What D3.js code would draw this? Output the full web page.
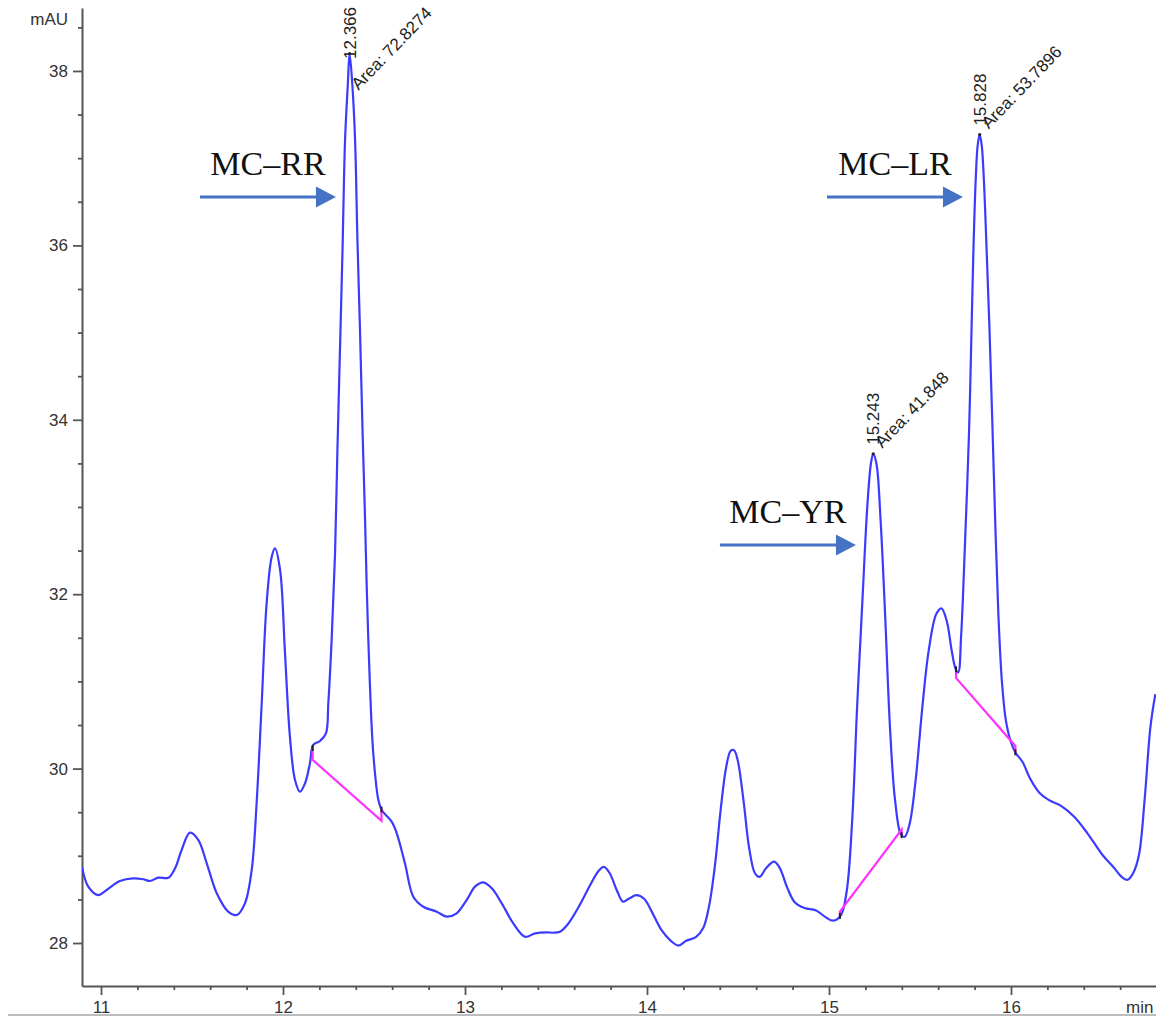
<!DOCTYPE html>
<html>
<head>
<meta charset="utf-8">
<script src="https://cdn.jsdelivr.net/npm/d3@7"></script>
<style>
  body { margin: 0; background: #fff; }
  svg { display: block; }
</style>
</head>
<body>
<svg id="chart" width="1156" height="1017"></svg>
<script>
// Chromatogram trace: retention time (min) and detector response (mAU)
const retentionTime = [
  10.896, 10.930, 10.985, 11.031, 11.104, 11.177, 11.232, 11.269, 11.315, 11.370,
  11.407, 11.443, 11.489, 11.535, 11.581, 11.636, 11.699, 11.746, 11.791, 11.828,
  11.855, 11.883, 11.910, 11.938, 11.956, 11.984, 12.011, 12.038, 12.066, 12.093,
  12.121, 12.148, 12.166, 12.203, 12.236, 12.249, 12.268, 12.286, 12.299, 12.313,
  12.327, 12.341, 12.356, 12.366, 12.381, 12.396, 12.409, 12.423, 12.437, 12.451,
  12.460, 12.478, 12.496, 12.524, 12.542, 12.597, 12.625, 12.670, 12.716, 12.771,
  12.845, 12.899, 12.954, 13.009, 13.055, 13.101, 13.147, 13.202, 13.265, 13.330,
  13.385, 13.449, 13.485, 13.522, 13.564, 13.627, 13.690, 13.732, 13.763, 13.795,
  13.837, 13.868, 13.900, 13.942, 13.984, 14.026, 14.079, 14.131, 14.173, 14.215,
  14.268, 14.309, 14.341, 14.373, 14.404, 14.435, 14.460, 14.478, 14.498, 14.530,
  14.561, 14.593, 14.618, 14.656, 14.698, 14.729, 14.771, 14.813, 14.866, 14.929,
  14.981, 15.023, 15.065, 15.097, 15.128, 15.154, 15.184, 15.210, 15.230, 15.243,
  15.261, 15.283, 15.309, 15.335, 15.363, 15.396, 15.416, 15.443, 15.475, 15.512,
  15.548, 15.590, 15.618, 15.647, 15.674, 15.695, 15.710, 15.726, 15.747, 15.769,
  15.780, 15.793, 15.806, 15.817, 15.828, 15.839, 15.851, 15.866, 15.882, 15.897,
  15.913, 15.930, 15.950, 15.972, 15.999, 16.025, 16.063, 16.104, 16.157, 16.209,
  16.273, 16.346, 16.419, 16.503, 16.566, 16.608, 16.640, 16.671, 16.703, 16.734,
  16.766, 16.793
];
const absorbance = [
  28.870, 28.646, 28.550, 28.608, 28.711, 28.742, 28.731, 28.711, 28.749, 28.749,
  28.857, 29.067, 29.265, 29.181, 28.914, 28.570, 28.359, 28.321, 28.455, 28.837,
  29.602, 30.749, 31.896, 32.430, 32.526, 32.278, 31.322, 30.366, 29.869, 29.735,
  29.831, 30.061, 30.271, 30.317, 30.405, 30.749, 31.513, 32.469, 33.654, 34.800,
  35.947, 37.209, 37.839, 38.200, 37.839, 37.209, 36.062, 35.030, 33.883, 32.851,
  32.086, 30.939, 30.175, 29.640, 29.525, 29.391, 29.258, 28.914, 28.531, 28.416,
  28.359, 28.302, 28.341, 28.493, 28.646, 28.696, 28.627, 28.455, 28.226, 28.072,
  28.111, 28.123, 28.118, 28.130, 28.213, 28.423, 28.674, 28.821, 28.872, 28.800,
  28.591, 28.474, 28.507, 28.548, 28.507, 28.360, 28.150, 28.025, 27.970, 28.025,
  28.067, 28.172, 28.423, 28.884, 29.513, 30.015, 30.204, 30.212, 30.099, 29.638,
  29.093, 28.800, 28.758, 28.862, 28.933, 28.862, 28.632, 28.464, 28.401, 28.373,
  28.297, 28.256, 28.318, 28.591, 29.429, 30.686, 31.943, 32.990, 33.493, 33.610,
  33.493, 32.865, 31.733, 30.476, 29.638, 29.240, 29.219, 29.366, 29.847, 30.686,
  31.355, 31.775, 31.837, 31.692, 31.355, 31.147, 31.104, 31.523, 32.571, 33.828,
  34.750, 35.900, 36.750, 37.150, 37.270, 37.150, 36.750, 35.950, 35.030, 34.000,
  32.850, 31.800, 31.000, 30.550, 30.308, 30.182, 30.078, 29.890, 29.721, 29.638,
  29.576, 29.450, 29.261, 29.009, 28.864, 28.758, 28.725, 28.800, 29.009, 29.638,
  30.476, 30.853
];

// Integrated peaks
const peakTimes = [12.366, 15.243, 15.828];
const peakAreas = ["72.8274", "41.848", "53.7896"];
const compoundNames = ["MC\u2013RR", "MC\u2013YR", "MC\u2013LR"];
const baselineStart = [[12.163, 30.10], [15.060, 28.36], [15.698, 31.04]];
const baselineEnd = [[12.541, 29.40], [15.399, 29.30], [16.024, 30.26]];

// Axis ticks
const xTicks = [11, 12, 13, 14, 15, 16];
const yTicks = [28, 30, 32, 34, 36, 38];

// ---- layout ----
const plot = { left: 82, right: 1156, top: 8, bottom: 986 };
// arrow tip time (min) and arrow level (mAU) for each compound callout
const callouts = [
  { tip: 12.291, level: 36.555 },
  { tip: 15.148, level: 32.564 },
  { tip: 15.736, level: 36.555 }
];

const svg = d3.select("#chart");
const x = d3.scaleLinear().domain([10.8956, 16.7967]).range([plot.left, plot.right]);
const y = d3.scaleLinear().domain([27.507, 38.722]).range([plot.bottom, plot.top]);

const sans = "'Liberation Sans', Arial, Helvetica, sans-serif";
const fontSize = "17px";
const axisColor = "#555";
const textColor = "#333";

svg.append("defs").append("clipPath").attr("id", "plotClip")
  .append("rect")
  .attr("x", plot.left).attr("y", 0)
  .attr("width", plot.right - plot.left).attr("height", plot.bottom);

// frame line along the bottom edge
svg.append("line")
  .attr("x1", 8).attr("x2", 1156).attr("y1", 1015).attr("y2", 1015)
  .attr("stroke", "#bdbdbd").attr("stroke-width", 2);

// ---- axes ----
function styleAxis(g, withDomain) {
  g.select(".domain").attr("stroke", axisColor).attr("stroke-width", 2)
    .style("display", withDomain ? null : "none");
  g.selectAll(".tick line").attr("stroke", axisColor).attr("stroke-width", 1.8);
  g.selectAll(".tick text").attr("fill", textColor)
    .style("font-family", sans).style("font-size", fontSize);
}

const yMinor = d3.range(57, 78).filter(i => i % 4 !== 0).map(i => i / 2);
svg.append("g").attr("transform", `translate(${plot.left},0)`)
  .call(d3.axisLeft(y).tickValues(yMinor).tickSize(4).tickSizeOuter(0).tickFormat(""))
  .call(g => styleAxis(g, false));
svg.append("g").attr("transform", `translate(${plot.left},0)`)
  .call(d3.axisLeft(y).tickValues(yTicks).tickSize(9).tickSizeOuter(0).tickPadding(5)
    .tickFormat(d3.format("d")))
  .call(g => styleAxis(g, true));

const xMinor = d3.range(56, 84).filter(i => i % 5 !== 0).map(i => i / 5);
svg.append("g").attr("transform", `translate(0,${plot.bottom})`)
  .call(d3.axisBottom(x).tickValues(xMinor).tickSize(4).tickSizeOuter(0).tickFormat(""))
  .call(g => styleAxis(g, false));
svg.append("g").attr("transform", `translate(0,${plot.bottom})`)
  .call(d3.axisBottom(x).tickValues(xTicks).tickSize(9).tickSizeOuter(0).tickPadding(6)
    .tickFormat(d3.format("d")))
  .call(g => styleAxis(g, true));

// unit labels
svg.append("text").attr("x", plot.left - 14).attr("y", 25)
  .attr("text-anchor", "end").attr("fill", textColor)
  .style("font-family", sans).style("font-size", fontSize).text("mAU");
svg.append("text").attr("x", 1126).attr("y", 1013)
  .attr("fill", textColor)
  .style("font-family", sans).style("font-size", fontSize).text("min");

// ---- trace ----
const trace = retentionTime.map((t, i) => [t, absorbance[i]]);
const line = d3.line().x(d => x(d[0])).y(d => y(d[1])).curve(d3.curveCatmullRom.alpha(0.5));
const plotG = svg.append("g").attr("clip-path", "url(#plotClip)");

function traceAt(t) {
  const i = d3.bisector(d => d[0]).left(trace, t);
  if (i <= 0) return trace[0][1];
  if (i >= trace.length) return trace[trace.length - 1][1];
  const a = trace[i - 1], b = trace[i];
  return a[1] + (b[1] - a[1]) * (t - a[0]) / (b[0] - a[0]);
}

plotG.append("path").datum(trace)
  .attr("d", line)
  .attr("fill", "none")
  .attr("stroke", "#3b3bff")
  .attr("stroke-width", 2.2)
  .attr("stroke-linejoin", "round");

// integration baselines (with drops to the trace)
peakTimes.forEach((_, i) => {
  const s = baselineStart[i], e = baselineEnd[i];
  const pts = [[s[0], traceAt(s[0])], s, e, [e[0], traceAt(e[0])]];
  plotG.append("path")
    .attr("d", d3.line().x(d => x(d[0])).y(d => y(d[1]))(pts))
    .attr("fill", "none").attr("stroke", "#ff30ff").attr("stroke-width", 2.2);
  // start / end markers
  [s[0], e[0]].forEach(t => {
    const cy = y(traceAt(t));
    plotG.append("line")
      .attr("x1", x(t)).attr("x2", x(t)).attr("y1", cy - 3).attr("y2", cy + 3)
      .attr("stroke", "#222").attr("stroke-width", 2);
  });
});

// ---- peak labels (kept inside the plot area) ----
const tilt = 46;
peakTimes.forEach((t, i) => {
  const px = x(t), h = traceAt(t), py = y(h);
  svg.append("circle").attr("cx", px).attr("cy", py).attr("r", 1.6).attr("fill", "#222");

  const rt = svg.append("text")
    .attr("fill", "#222").style("font-family", sans).style("font-size", fontSize)
    .text(d3.format(".3f")(t));
  const rtLen = rt.node().getComputedTextLength();
  const ry = Math.max(py - 9, plot.top - 1 + rtLen);
  rt.attr("transform", `translate(${px + 6},${ry}) rotate(-90)`);

  const area = svg.append("text")
    .attr("fill", "#222").style("font-family", sans).style("font-size", fontSize)
    .text("Area: " + peakAreas[i]);
  const len = area.node().getComputedTextLength();
  const rise = len * Math.sin(tilt * Math.PI / 180);
  const ay = Math.max(py - 5, plot.top + 6 + rise);
  area.attr("transform", `translate(${px + 9},${ay}) rotate(${-tilt})`);
});

// ---- compound callouts ----
const arrowColor = "#4472c4";
const arrowLen = 136, headLen = 20, headHalf = 10.5;
callouts.forEach((c, i) => {
  const tipX = x(c.tip), ay = y(c.level), tailX = tipX - arrowLen;
  svg.append("line")
    .attr("x1", tailX).attr("x2", tipX - headLen + 2).attr("y1", ay).attr("y2", ay)
    .attr("stroke", arrowColor).attr("stroke-width", 3);
  svg.append("path")
    .attr("d", `M${tipX},${ay} L${tipX - headLen},${ay - headHalf} L${tipX - headLen},${ay + headHalf} Z`)
    .attr("fill", arrowColor);
  svg.append("text")
    .attr("x", (tailX + tipX) / 2).attr("y", ay - 22)
    .attr("text-anchor", "middle").attr("fill", "#111")
    .style("font-family", "'Liberation Serif', 'Times New Roman', serif")
    .style("font-size", "34px")
    .text(compoundNames[i]);
});
</script>
</body>
</html>
